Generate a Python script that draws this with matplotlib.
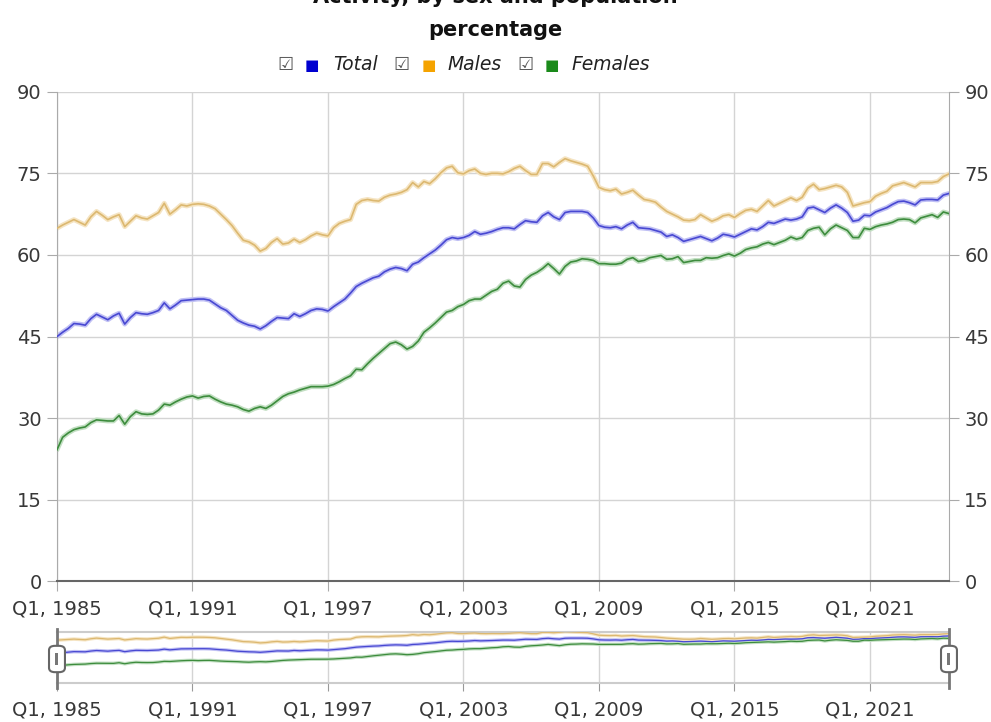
import matplotlib.pyplot as plt
import numpy as np
from matplotlib.patches import FancyBboxPatch, Rectangle

# quarterly values, Q1 1985 .. Q3 2024
total = [45.0, 45.8, 46.5, 47.4, 47.3, 47.1, 48.3, 49.1, 48.6, 48.1, 48.8, 49.3, 47.3, 48.5, 49.4, 49.2, 49.1, 49.4, 49.8, 51.2, 50.1, 50.8, 51.6, 51.7, 51.8,
         51.9, 51.9, 51.7, 51.0, 50.3, 49.8, 48.9, 48.0, 47.5, 47.1, 46.9, 46.4, 47.0, 47.8, 48.5, 48.4, 48.3, 49.2, 48.7, 49.2, 49.8, 50.1, 50.0, 49.7,
         50.5, 51.2, 51.9, 53.0, 54.2, 54.8, 55.3, 55.8, 56.1, 56.9, 57.4, 57.7, 57.5, 57.1, 58.3, 58.7, 59.5, 60.2, 60.9, 61.8, 62.8, 63.2, 63.0, 63.2,
         63.6, 64.3, 63.8, 64.0, 64.3, 64.7, 65.0, 65.0, 64.8, 65.6, 66.3, 66.1, 66.0, 67.2, 67.8, 67.0, 66.5, 67.8, 68.0, 68.0, 68.0, 67.8, 66.8, 65.4,
         65.1, 65.0, 65.2, 64.8, 65.5, 66.0, 65.0, 64.9, 64.8, 64.5, 64.2, 63.4, 63.7, 63.2, 62.5, 62.8, 63.1, 63.4, 63.0, 62.6, 63.1, 63.8, 63.6, 63.3,
         63.8, 64.3, 64.8, 64.6, 65.2, 66.0, 65.8, 66.2, 66.6, 66.4, 66.6, 67.0, 68.6, 68.8, 68.3, 67.8, 68.6, 69.2, 68.6, 67.8, 66.2, 66.4, 67.3, 67.2,
         67.9, 68.3, 68.7, 69.3, 69.8, 69.9, 69.6, 69.2, 70.1, 70.2, 70.2, 70.1, 71.0, 71.3]

males = [64.9, 65.5, 66.0, 66.5, 66.0, 65.5, 67.0, 68.0, 67.3, 66.5, 67.0, 67.4, 65.2, 66.2, 67.2, 66.8, 66.6, 67.2, 67.8, 69.5, 67.5, 68.3, 69.2, 69.0, 69.3,
         69.4, 69.3, 69.0, 68.5, 67.5, 66.5, 65.4, 64.0, 62.7, 62.4, 61.8, 60.7, 61.2, 62.3, 63.0, 62.0, 62.2, 62.9, 62.3, 62.8, 63.5, 64.0, 63.7, 63.5,
         65.0, 65.8, 66.2, 66.5, 69.3, 70.0, 70.2, 70.0, 69.9, 70.6, 71.0, 71.2, 71.5, 72.0, 73.3, 72.5, 73.5, 73.1, 74.0, 75.1, 76.0, 76.3, 75.1, 74.9,
         75.5, 75.8, 75.0, 74.8, 75.0, 75.0, 74.9, 75.3, 75.9, 76.3, 75.5, 74.8, 74.8, 76.8, 76.8, 76.2, 77.0, 77.7, 77.3, 77.0, 76.7, 76.3, 74.5, 72.4,
         72.0, 71.8, 72.1, 71.2, 71.5, 71.9, 71.0, 70.2, 70.0, 69.7, 68.8, 68.0, 67.5, 67.0, 66.4, 66.3, 66.5, 67.4, 66.8, 66.2, 66.6, 67.2, 67.4, 66.9,
         67.6, 68.2, 68.4, 68.0, 69.0, 70.0, 69.0, 69.5, 70.0, 70.5, 70.0, 70.6, 72.3, 73.0, 72.0, 72.2, 72.5, 72.8, 72.5, 71.5, 69.0, 69.3, 69.6, 69.8,
         70.8, 71.3, 71.7, 72.7, 73.0, 73.3, 72.9, 72.5, 73.3, 73.3, 73.3, 73.5, 74.4, 74.9]

females = [24.2, 26.5, 27.3, 27.9, 28.2, 28.4, 29.2, 29.7, 29.6, 29.5, 29.5, 30.5, 28.9, 30.3, 31.2, 30.8, 30.7, 30.8, 31.5, 32.6, 32.4, 33.0, 33.5, 33.9, 34.1,
           33.7, 34.0, 34.1, 33.5, 33.0, 32.6, 32.4, 32.1, 31.6, 31.3, 31.8, 32.1, 31.8, 32.4, 33.2, 34.0, 34.5, 34.8, 35.2, 35.5, 35.8, 35.8, 35.8, 35.9,
           36.2, 36.7, 37.3, 37.8, 39.0, 38.9, 40.0, 41.0, 41.9, 42.8, 43.7, 44.0, 43.5, 42.7, 43.2, 44.2, 45.8, 46.6, 47.5, 48.5, 49.5, 49.8, 50.5, 50.9,
           51.6, 51.9, 51.9, 52.6, 53.3, 53.7, 54.8, 55.2, 54.3, 54.1, 55.5, 56.3, 56.8, 57.5, 58.4, 57.5, 56.5, 57.9, 58.7, 58.9, 59.3, 59.2, 59.0, 58.4,
           58.4, 58.3, 58.3, 58.5, 59.2, 59.5, 58.8, 59.0, 59.5, 59.7, 59.9, 59.2, 59.3, 59.7, 58.6, 58.8, 59.0, 59.0, 59.5, 59.4, 59.5, 59.9, 60.2, 59.8,
           60.3, 61.0, 61.3, 61.5, 62.0, 62.3, 61.9, 62.3, 62.7, 63.3, 62.9, 63.2, 64.5, 64.9, 65.1, 63.7, 64.8, 65.5, 65.0, 64.5, 63.2, 63.2, 64.9, 64.7,
           65.2, 65.5, 65.7, 66.0, 66.5, 66.6, 66.5, 65.9, 66.8, 67.1, 67.4, 66.9, 67.9, 67.6]

tick_years = [1985, 1991, 1997, 2003, 2009, 2015, 2021]
tick_labels = ["Q1, %d" % y for y in tick_years]
tick_pos = [(y - 1985) * 4 for y in tick_years]
yticks = [0, 15, 30, 45, 60, 75, 90]

series = [("Total", total, "#4848d2", "#c0c0f4"),
          ("Males", males, "#dcb870", "#f5e4c2"),
          ("Females", females, "#3d8c3d", "#c2dfc2")]

n = len(total)
grid_c = "#d4d4d4"
txt_c = "#383838"

fig = plt.figure(figsize=(9.91, 7.22), dpi=100)

# main chart
ax = fig.add_axes([0.0575, 0.1946, 0.9001, 0.6784])
for name, vals, core, glow in series:
    x = np.arange(len(vals))
    ax.plot(x, vals, color=glow, lw=3.5, solid_capstyle='round', zorder=2)
    ax.plot(x, vals, color=core, lw=1.2, zorder=3)
ax.set_xlim(0, n - 1)
ax.set_ylim(0, 90)
ax.set_yticks(yticks)
ax.set_xticks(tick_pos)
ax.set_xticklabels(tick_labels)
ax.grid(color=grid_c, lw=1)
ax.set_axisbelow(True)
ax.tick_params(axis='both', length=7, color='#aaaaaa', labelsize=14, labelcolor=txt_c)
ax.tick_params(axis='y', right=True, labelright=True, pad=4)
ax.tick_params(axis='x', pad=6)
ax.spines['top'].set_visible(False)
for s in ('left', 'right'):
    ax.spines[s].set_color('#aaaaaa')
ax.spines['bottom'].set_color('#666666')
ax.spines['bottom'].set_linewidth(1.5)

# navigator
nav = fig.add_axes([0.0575, 0.0544, 0.9001, 0.0706])
for name, vals, core, glow in series:
    x = np.arange(len(vals))
    nav.plot(x, vals, color=glow, lw=2.5, zorder=2)
    nav.plot(x, vals, color=core, lw=0.9, zorder=3)
nav.set_xlim(0, n - 1)
nav.set_ylim(0, 77.7)
nav.set_yticks([])
nav.set_xticks(tick_pos)
nav.set_xticklabels(tick_labels)
nav.grid(axis='x', color=grid_c, lw=1)
nav.set_axisbelow(True)
nav.tick_params(axis='x', length=6, color='#999999', labelsize=14, labelcolor=txt_c, pad=7)
nav.spines['left'].set_visible(False)
nav.spines['right'].set_visible(False)
for s in ('top', 'bottom'):
    nav.spines[s].set_color('#cccccc')
    nav.spines[s].set_linewidth(1.5)

# range handles
tr = nav.get_xaxis_transform()
for hx in (0, n - 1):
    nav.plot([hx, hx], [-0.1, 1.05], transform=tr, color='#777777', lw=2, clip_on=False, zorder=5)
    fx = fig.transFigure.inverted().transform(nav.transData.transform((hx, 0)))[0]
    w, h = 10 / 991, 22 / 722
    fig.patches.append(FancyBboxPatch((fx - w / 2, 1 - 659 / 722 - h / 2), w, h,
                                      boxstyle="round,pad=0.003,rounding_size=0.006",
                                      transform=fig.transFigure, facecolor='white',
                                      edgecolor='#666666', lw=1.5, zorder=6))
    fig.patches.append(Rectangle((fx - 1.5 / 991, 1 - 659 / 722 - 6 / 722), 3 / 991, 12 / 722,
                                 transform=fig.transFigure, facecolor='#777777',
                                 edgecolor='none', zorder=7))

# title (first line is cut off by the top edge, as in the source)
fig.text(0.5, 1 - 3 / 722, "Activity, by sex and population", ha='center', va='baseline',
         fontsize=15, fontweight='bold', color='#111111')
fig.text(0.5, 1 - 30 / 722, "percentage", ha='center', va='center',
         fontsize=15, fontweight='bold', color='#111111')

# legend
ly = 1 - 65 / 722
legend_items = [("Total", "#0000d0", 285, 312, 333),
                ("Males", "#f5a300", 401, 429, 448),
                ("Females", "#1a8a1a", 525, 552, 572)]
for label, col, cbx, sqx, tx in legend_items:
    fig.text(cbx / 991, ly, "\u2611", ha='center', va='center', fontsize=13, color='#555555')
    fig.text(sqx / 991, ly, "\u25a0", ha='center', va='center', fontsize=11, color=col)
    fig.text(tx / 991, ly, label, ha='left', va='center', fontsize=13.5, style='italic', color='#222222')

fig.savefig("out.png", dpi=100)
